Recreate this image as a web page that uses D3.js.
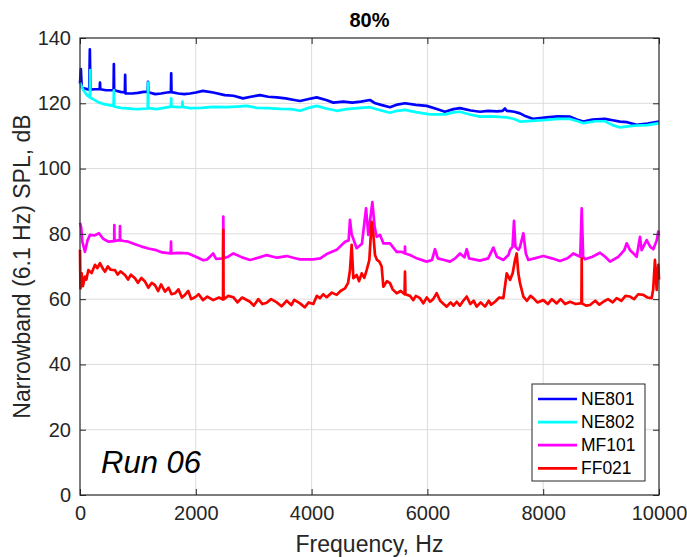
<!DOCTYPE html>
<html lang="en">
<head>
<meta charset="UTF-8">
<title>Run 06 - 80%</title>
<script src="https://cdn.jsdelivr.net/npm/d3@7"></script>
<style>
  body { margin: 0; background: #fff; }
  text { font-family: "Liberation Sans", Arial, Helvetica, sans-serif; }
</style>
</head>
<body>
<script>
// series names and colours (legend order)
const seriesNames = ['NE801', 'NE802', 'MF101', 'FF021'];
const seriesColors = ['#0000ff', '#00ffff', '#ff00ff', '#ff0000'];

const xTicks = [0, 2000, 4000, 6000, 8000, 10000];
const yTicks = [0, 20, 40, 60, 80, 100, 120, 140];

// values: [frequency Hz, dB]
const ne801 = [[0,126],[15,130.5],[30,125],[80,124.5],[160,124.2],[170,136.5],[180,124.2],[250,124.3],[340,124.3],[345,126.3],[350,124.3],[450,124],[580,124],[585,132],[590,124],[700,123.5],[775,123.3],[780,128.7],[785,123],[900,123],[1000,123.2],[1100,123.5],[1170,123.6],[1175,126.6],[1180,123.4],[1300,122.8],[1400,123],[1500,123.3],[1570,123.4],[1575,129.2],[1580,123.4],[1700,123],[1800,122.8],[1900,123],[2000,123.3],[2124,123.8],[2300,123.3],[2500,122.5],[2650,122.3],[2815,121.5],[2950,122],[3109,122.5],[3250,122],[3400,121.8],[3550,121.5],[3700,121],[3800,120.7],[3950,121.3],[4088,121.8],[4250,121],[4375,120.2],[4550,120.5],[4700,120.2],[4850,120.5],[5009,121],[5100,120],[5200,119.5],[5354,118.8],[5480,119.6],[5613,120],[5800,119.5],[5987,119.2],[6150,118.3],[6304,117.4],[6450,118.2],[6563,118.5],[6750,117.8],[6908,117.4],[7050,117.7],[7200,117.5],[7300,117.7],[7340,118.4],[7370,117.7],[7500,117.4],[7599,116.9],[7700,116],[7830,115.2],[7950,115.5],[8060,115.7],[8250,116],[8463,115.9],[8580,115],[8693,114.4],[8850,115],[9067,115.2],[9200,114.8],[9326,114.4],[9450,114.2],[9614,113.4],[9800,113.8],[10000,114.4]];

const ne802 = [[0,126.3],[60,124],[120,122.5],[170,121.8],[175,130.2],[180,121.6],[202,121.5],[300,120.5],[400,119.8],[483,119.5],[580,119.2],[585,124],[590,119],[700,118.6],[777,118.5],[900,118.3],[1000,118.2],[1170,118.4],[1175,126.3],[1180,118.5],[1324,118.2],[1450,118.6],[1570,119],[1575,121.5],[1580,119],[1700,118.8],[1765,118.9],[1770,120.5],[1775,118.9],[1900,118.5],[2100,118.6],[2300,118.9],[2533,118.8],[2700,119],[2879,119.2],[3050,118.6],[3250,118.5],[3450,118.3],[3650,118.2],[3800,117.7],[3950,118.6],[4088,119.2],[4250,118.4],[4433,117.7],[4600,118.2],[4800,118.5],[5009,118.8],[5200,117.8],[5354,117.1],[5480,117.7],[5613,118],[5800,117.3],[6045,116.6],[6304,116.6],[6450,117.2],[6563,117.4],[6750,116.5],[6908,115.9],[7100,116],[7370,115.7],[7500,115.2],[7599,114.4],[7800,114.6],[8060,114.9],[8250,115.2],[8463,115.2],[8600,114.5],[8693,113.9],[8900,114.5],[9067,114.5],[9200,113.3],[9326,112.6],[9500,113],[9614,113.2],[9800,113.3],[10000,113.9]];

const mf101 = [[0,83.4],[20,82],[40,77.6],[86,74.5],[130,78],[173,79.7],[250,79.5],[328,80.2],[400,78.5],[489,77.6],[590,77.8],[593,82.7],[597,77.8],[650,78],[688,78],[691,82.4],[695,78],[760,77.8],[835,77.6],[950,76.8],[1065,76.1],[1180,75.5],[1295,75.1],[1420,74.3],[1567,74],[1572,77.6],[1577,74],[1700,74.2],[1871,74],[2000,73],[2130,71.9],[2200,72.2],[2300,74],[2350,72.3],[2470,72.5],[2475,85.3],[2480,72.5],[2560,73],[2648,74],[2800,72.8],[2936,72],[3100,72.8],[3224,73.5],[3400,72.7],[3570,73.2],[3700,72.6],[3800,72.2],[4030,72.2],[4150,72.5],[4260,73.8],[4433,75.1],[4577,77.6],[4640,78],[4663,84.3],[4690,80],[4778,75.6],[4870,77],[4940,87.8],[4980,79.7],[5049,89.7],[5090,82],[5124,79.1],[5181,79.7],[5239,77.1],[5354,77.1],[5469,74.5],[5560,74.5],[5610,74],[5613,76.1],[5616,74],[5700,73.5],[5815,72.5],[5987,71.5],[6080,72],[6131,75.3],[6180,72.5],[6290,72],[6390,71.5],[6480,72.5],[6563,74],[6640,72.8],[6679,75.3],[6720,72.5],[6908,71.8],[7050,72.5],[7139,75.8],[7200,73],[7312,72],[7400,73.5],[7427,75.1],[7470,76],[7496,84],[7520,76],[7571,75.1],[7600,76],[7657,80.2],[7700,74],[7743,72],[7850,72.5],[8002,73.2],[8150,72.5],[8290,71.7],[8420,72.5],[8520,74],[8640,73],[8665,87.8],[8690,73],[8722,72.2],[8850,73],[8981,74.2],[9070,73],[9154,71.5],[9300,73],[9400,75],[9442,77.1],[9500,75],[9560,74],[9614,73],[9672,79.1],[9700,75],[9787,78.1],[9850,76],[9902,75.3],[9960,78],[9988,80.7],[10000,79.5]];

const ff021 = [[0,75.1],[8,63.3],[29,67.9],[50,64],[86,66.9],[110,66],[144,68.9],[200,68],[259,70.5],[300,69.5],[345,71],[390,69.5],[432,68.4],[480,70],[530,69],[604,68.9],[650,67.5],[700,68.5],[777,67.4],[830,66],[880,67.5],[950,66.4],[1000,65],[1060,66.5],[1123,65.4],[1180,63.5],[1240,65],[1295,64.3],[1350,62.5],[1400,64.5],[1468,62.3],[1530,63.5],[1580,61.5],[1641,61.8],[1700,63],[1760,60.5],[1813,61.3],[1870,62.5],[1920,60],[1986,60.6],[2050,61.5],[2124,59.7],[2200,60.8],[2300,59.7],[2400,60.5],[2470,59.9],[2475,81.2],[2480,59.9],[2560,61],[2648,60.6],[2720,59],[2800,60.5],[2936,59.2],[3000,58],[3080,60],[3150,58.5],[3224,58.9],[3300,60],[3400,59],[3480,57.8],[3570,59.5],[3650,58.2],[3700,59.8],[3800,58.7],[3880,57.5],[3950,59],[4030,58.5],[4090,61],[4145,60.3],[4200,61.5],[4260,60.6],[4350,62],[4433,61.3],[4500,62.5],[4577,63.3],[4630,65],[4663,68.9],[4692,76.6],[4721,66.4],[4778,67.4],[4820,65.5],[4865,67.9],[4910,66.5],[4951,68.9],[4997,72],[5037,83.7],[5066,80],[5095,73.5],[5130,72],[5170,71.5],[5210,70],[5239,63.8],[5300,65.5],[5354,64.9],[5400,63],[5469,61.8],[5540,62.5],[5605,61.5],[5613,68.4],[5621,61.5],[5699,61],[5757,59.7],[5800,61],[5872,60.3],[5929,58.7],[5990,60.5],[6045,59.2],[6100,60],[6160,61.8],[6220,59.5],[6280,58.5],[6333,57.7],[6400,59],[6450,58],[6506,59.2],[6560,58],[6620,59.5],[6679,60.8],[6740,58.5],[6800,59.5],[6851,57.7],[6920,59],[6995,57.7],[7060,59.5],[7100,58.3],[7168,59.2],[7240,60.5],[7312,60.3],[7370,67.9],[7427,65.9],[7473,67.9],[7513,72],[7542,74],[7570,68],[7599,64.9],[7657,60.8],[7720,59.5],[7780,61],[7830,60.3],[7900,59],[8002,59.7],[8080,58.5],[8150,60],[8233,58.7],[8300,60],[8380,58.5],[8463,59.2],[8560,58.5],[8636,58.7],[8660,58.7],[8665,72.5],[8670,58.7],[8740,58],[8808,58.2],[8900,59.5],[8970,58.3],[9038,59.2],[9120,60],[9200,59],[9269,60.3],[9350,59.5],[9420,61],[9499,60.8],[9570,60],[9640,61.5],[9729,61.3],[9800,60.5],[9873,60.3],[9900,63],[9930,72],[9960,62.8],[9988,70.5],[10000,66]];

const allSeries = [ne801, ne802, mf101, ff021];

const W = 687, H = 557;
const m = {left: 80, right: 28, top: 38, bottom: 62};
const pw = W - m.left - m.right, ph = H - m.top - m.bottom;
const axisCol = '#262626';

const svg = d3.select('body').append('svg')
  .attr('width', W).attr('height', H);

const x = d3.scaleLinear().domain([0, 10000]).range([m.left, m.left + pw]);
const y = d3.scaleLinear().domain([0, 140]).range([m.top + ph, m.top]);

// grid
const grid = svg.append('g');
grid.selectAll('.gx').data(xTicks.slice(1, -1)).join('line')
  .attr('x1', d => x(d)).attr('x2', d => x(d))
  .attr('y1', m.top).attr('y2', m.top + ph)
  .attr('stroke', '#dcdcdc').attr('stroke-width', 1);
grid.selectAll('.gy').data(yTicks.slice(1, -1)).join('line')
  .attr('y1', d => y(d)).attr('y2', d => y(d))
  .attr('x1', m.left).attr('x2', m.left + pw)
  .attr('stroke', '#dcdcdc').attr('stroke-width', 1);

// lines
const line = d3.line().x(d => x(d[0])).y(d => y(d[1]));
const lines = svg.append('g');
allSeries.forEach((s, i) => {
  lines.append('path')
    .attr('d', line(s))
    .attr('fill', 'none')
    .attr('stroke', seriesColors[i])
    .attr('stroke-width', 2.7)
    .attr('stroke-linejoin', 'round');
});

// axes (ticks inside, box on)
function styleAxis(g) {
  g.select('.domain').remove();
  g.selectAll('line').attr('stroke', axisCol);
  g.selectAll('text').attr('fill', axisCol).style('font-size', '20px');
}
svg.append('g').attr('transform', `translate(0,${m.top + ph})`)
  .call(d3.axisBottom(x).tickValues(xTicks).tickFormat(d3.format('d')).tickSizeInner(-6).tickPadding(11))
  .call(styleAxis);
svg.append('g').attr('transform', `translate(${m.left},0)`)
  .call(d3.axisLeft(y).tickValues(yTicks).tickSizeInner(-6).tickPadding(9))
  .call(styleAxis);
svg.append('g').attr('transform', `translate(0,${m.top})`)
  .call(d3.axisTop(x).tickValues(xTicks).tickFormat('').tickSizeInner(-6))
  .call(styleAxis);
svg.append('g').attr('transform', `translate(${m.left + pw},0)`)
  .call(d3.axisRight(y).tickValues(yTicks).tickFormat('').tickSizeInner(-6))
  .call(styleAxis);

svg.append('rect')
  .attr('x', m.left).attr('y', m.top).attr('width', pw).attr('height', ph)
  .attr('fill', 'none').attr('stroke', axisCol).attr('stroke-width', 1.2);

// title and labels
svg.append('text').attr('x', m.left + pw / 2).attr('y', 27)
  .attr('text-anchor', 'middle').style('font-size', '20px').style('font-weight', 'bold')
  .attr('fill', '#000').text('80%');
svg.append('text').attr('x', m.left + pw / 2).attr('y', 552)
  .attr('text-anchor', 'middle').style('font-size', '23px').attr('fill', axisCol)
  .text('Frequency, Hz');
svg.append('text')
  .attr('transform', `translate(30,${m.top + ph / 2}) rotate(-90)`)
  .attr('text-anchor', 'middle').style('font-size', '23px').attr('fill', axisCol)
  .text('Narrowband (6.1 Hz) SPL, dB');

svg.append('text').attr('x', 101).attr('y', 473)
  .style('font-size', '31px').style('font-style', 'italic').attr('fill', '#000')
  .text('Run 06');

// legend
const lg = svg.append('g');
lg.append('rect').attr('x', 532).attr('y', 384).attr('width', 113).attr('height', 97)
  .attr('fill', '#fff').attr('stroke', axisCol).attr('stroke-width', 1);
seriesNames.forEach((n, i) => {
  const yy = 399 + i * 23.1;
  lg.append('line').attr('x1', 538).attr('x2', 577).attr('y1', yy).attr('y2', yy)
    .attr('stroke', seriesColors[i]).attr('stroke-width', 2.7);
  lg.append('text').attr('x', 581).attr('y', yy).attr('dy', '0.35em')
    .style('font-size', '17.5px').attr('fill', '#000').text(n);
});
</script>
</body>
</html>
